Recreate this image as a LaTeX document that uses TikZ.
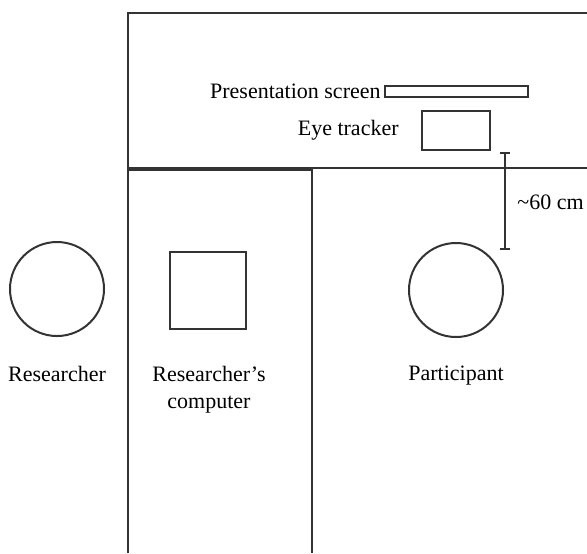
\documentclass[tikz,border=0pt]{standalone}
\usepackage{fontspec}
\setmainfont{Liberation Serif}
\usetikzlibrary{arrows.meta,positioning}
\tikzstyle{l1}=[line width=1pt, draw=black!80]
\tikzstyle{person}=[circle, l1, minimum size=47pt, inner sep=0pt]
\tikzstyle{device}=[rectangle, l1, inner sep=0pt]
\tikzstyle{lbl}=[font=\fontsize{11}{13.5}\selectfont, align=center, inner sep=1pt]

\begin{document}
\begin{tikzpicture}[x=0.5pt, y=-0.5pt]
    \useasboundingbox (0,0) rectangle (587,553);

    % room and desks
    \draw[l1] (128,553) |- (587,13);
    \draw[l1] (128,168) -- (587,168);
    \draw[l1] (128,553) |- (312,170) -- (312,553);

    % devices
    \node[device, minimum width=71.5pt, minimum height=5.5pt] at (456.5,91.5) (screen) {};
    \node[device, minimum width=34pt, minimum height=19.5pt] at (456,130.5) (tracker) {};
    \node[device, minimum width=38pt, minimum height=38.5pt] at (208,290.5) (computer) {};
    \node[lbl, left=0.5pt of screen] (screenl) {Presentation screen};
    \node[lbl, left=10pt of tracker] (trackerl) {Eye tracker};

    % people
    \node[person] at (57,289) (researcher) {};
    \node[person] at (456,290) (participant) {};
    \node[lbl, anchor=north] at (57,364) (researcherl) {Researcher};
    \node[lbl, anchor=north] at (209,364) (computerl) {Researcher's\\computer};
    \node[lbl, anchor=north] at (456,364) (participantl) {Participant};

    % distance
    \coordinate (dtop) at (505,152);
    \coordinate (dbot) at (505,250);
    \draw[l1, {Bar[width=5pt]}-{Bar[width=5pt]}] (dtop) -- (dbot);
    \node[lbl, anchor=west] at (515,202) (dist) {\textasciitilde60 cm};
\end{tikzpicture}
\end{document}
